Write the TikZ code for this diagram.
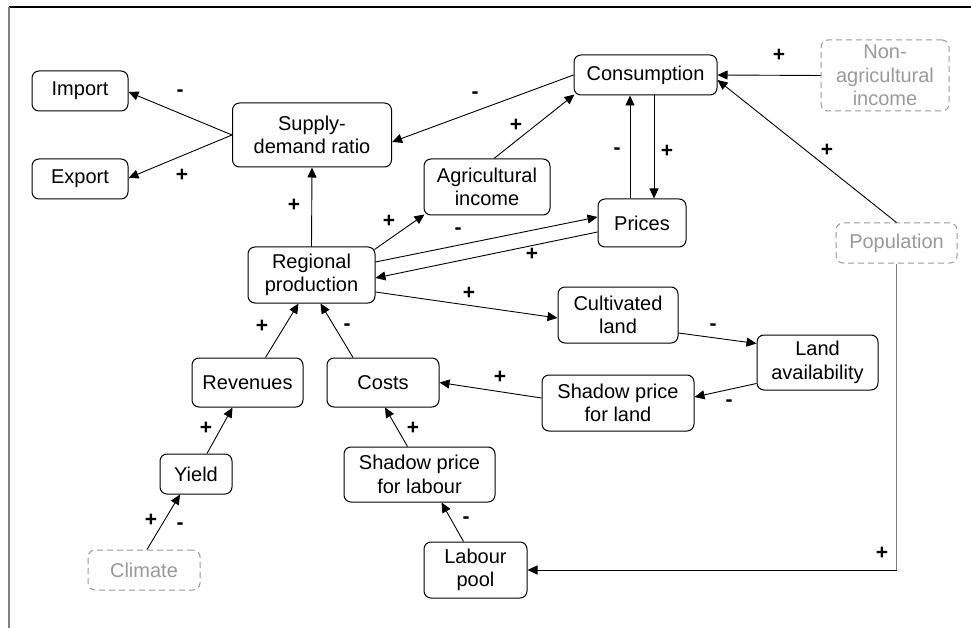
\documentclass[tikz,border=0pt]{standalone}
\usepackage{fontspec}
\setmainfont{Liberation Sans}
\usetikzlibrary{arrows.meta,calc}
\definecolor{ghost}{HTML}{9A9A9A}
\begin{document}
\begin{tikzpicture}[x=1pt,y=-1pt,
  font=\fontsize{20}{23.5}\selectfont,
  box/.style 2 args={draw=black, line width=1pt, rounded corners=7pt, align=center,
     inner sep=0pt, minimum width=#1pt, minimum height=#2pt},
  ghostbox/.style 2 args={box={#1}{#2}, draw=ghost, text=ghost, dash pattern=on 6pt off 4pt},
  conn/.style={line width=0.9pt, -{Triangle[length=10pt,width=9pt]}},
  lbl/.style={inner sep=0pt, font=\fontsize{21}{22}\selectfont\bfseries}]
\useasboundingbox (0,0) rectangle (971,628);
\fill[white] (0,0) rectangle (971,628);
% frame
\coordinate (ftl) at (9,7);
\coordinate (ftr) at (971,7);
\coordinate (fbl) at (9,628);
\draw[line width=1.5pt, black] (ftl) -- (ftr);
\draw[line width=1.5pt, gray] (ftl) -- (fbl);
% nodes
\node[box={96}{40}] (imp) at (80,91) {Import};
\node[box={96}{40}] (exp) at (80,179) {Export};
\node[box={159}{64}] (sup) at (312,135) {Supply-\\demand ratio};
\node[box={143}{40}] (cons) at (645.5,75) {Consumption};
\node[ghostbox={128}{71}] (nonag) at (885,75.5) {Non-\\agricultural\\income};
\node[box={126}{56}] (agi) at (487,187) {Agricultural\\income};
\node[box={88}{48}] (pri) at (642,223) {Prices};
\node[ghostbox={121}{40}] (pop) at (896.5,243) {Population};
\node[box={127}{56}] (reg) at (311.5,275) {Regional\\production};
\node[box={120}{56}] (cult) at (618,315) {Cultivated\\land};
\node[box={121}{55}] (land) at (817.5,362.5) {Land\\availability};
\node[box={152}{56}] (shl) at (618,403) {Shadow price\\for land};
\node[box={111}{49}] (rev) at (247.5,382.5) {Revenues};
\node[box={112}{49}] (cost) at (383,382.5) {Costs};
\node[box={72}{40}] (yld) at (196,474) {Yield};
\node[box={151}{55}] (shb) at (419.5,474.5) {Shadow price\\for labour};
\node[ghostbox={112}{40}] (clim) at (144,570) {Climate};
\node[box={103}{56}] (lab) at (475.5,570) {Labour\\pool};
% connectors
\draw[conn] (sup.west) -- ($(imp.east)+(0,1)$);
\draw[conn] (sup.west) -- ($(exp.east)+(0,-1)$);
\draw[conn] (cons.west) -- ($(sup.east)+(0,7)$);
\draw[conn] ($(agi.north)+(7,0)$) -- ($(cons.south west)+(1,-1)$);
\draw[conn] ($(cons.south)+(8.5,0)$) -- ($(pri.north)+(12,0)$);
\draw[conn] ($(pri.north)+(-12,0)$) -- ($(cons.south)+(-15.5,0)$);
\draw[conn] (reg.north) -- (sup.south);
\draw[conn] ($(reg.north east)+(-1,3)$) -- ($(agi.south west)+(1,-1)$);
\draw[conn] ($(reg.east)+(0,-13)$) -- ($(pri.west)+(0,-6)$);
\draw[conn] ($(pri.west)+(0,9)$) -- ($(reg.east)+(0,3)$);
\draw[conn] (nonag.west) -- (cons.east);
\draw[conn] (pop.north) -- ($(cons.east)+(0,5)$);
\coordinate (pcorner) at (pop.south |- lab.east);
\draw[line width=1.2pt, gray] (pop.south) -- (pcorner);
\draw[conn] (pcorner) -- (lab.east);
\draw[conn] ($(reg.east)+(0,17)$) -- ($(cult.west)+(0,3)$);
\draw[conn] ($(cult.east)+(0,18)$) -- ($(land.west)+(0,-19)$);
\draw[conn] ($(land.west)+(0,21)$) -- ($(shl.east)+(0,-6)$);
\draw[conn] ($(shl.west)+(0,-5)$) -- (cost.east);
\draw[conn] ($(rev.north)+(18,0)$) -- ($(reg.south)+(-13,0)$);
\draw[conn] ($(cost.north)+(-30,0)$) -- ($(reg.south)+(9,0)$);
\draw[conn] ($(yld.north)+(11,0)$) -- ($(rev.south)+(-15,0)$);
\draw[conn] ($(clim.north)+(3,0)$) -- ($(yld.south)+(-16,0)$);
\draw[conn] ($(shb.north)+(-12,0)$) -- ($(cost.south)+(2,0)$);
\draw[conn] ($(lab.north)+(-12,0)$) -- ($(shb.south)+(22,0)$);
% labels
\node[lbl] (l1) at (180,93) {-};
\node[lbl] (l2) at (182,175) {+};
\node[lbl] (l3) at (475,95) {-};
\node[lbl] (l4) at (516,125) {+};
\node[lbl] (l5) at (617,151) {-};
\node[lbl] (l6) at (667,151) {+};
\node[lbl] (l7) at (294,205) {+};
\node[lbl] (l8) at (389,221) {+};
\node[lbl] (l9) at (458,231) {-};
\node[lbl] (l10) at (532,254) {+};
\node[lbl] (l11) at (779,55) {+};
\node[lbl] (l12) at (827,150) {+};
\node[lbl] (l13) at (882,553) {+};
\node[lbl] (l14) at (469,293) {+};
\node[lbl] (l15) at (713,327) {-};
\node[lbl] (l16) at (729,403) {-};
\node[lbl] (l17) at (500,377) {+};
\node[lbl] (l18) at (262,326) {+};
\node[lbl] (l19) at (347,327) {-};
\node[lbl] (l20) at (206,428) {+};
\node[lbl] (l21) at (151,520) {+};
\node[lbl] (l22) at (180,526) {-};
\node[lbl] (l23) at (413,428) {+};
\node[lbl] (l24) at (466,520) {-};
\end{tikzpicture}
\end{document}
